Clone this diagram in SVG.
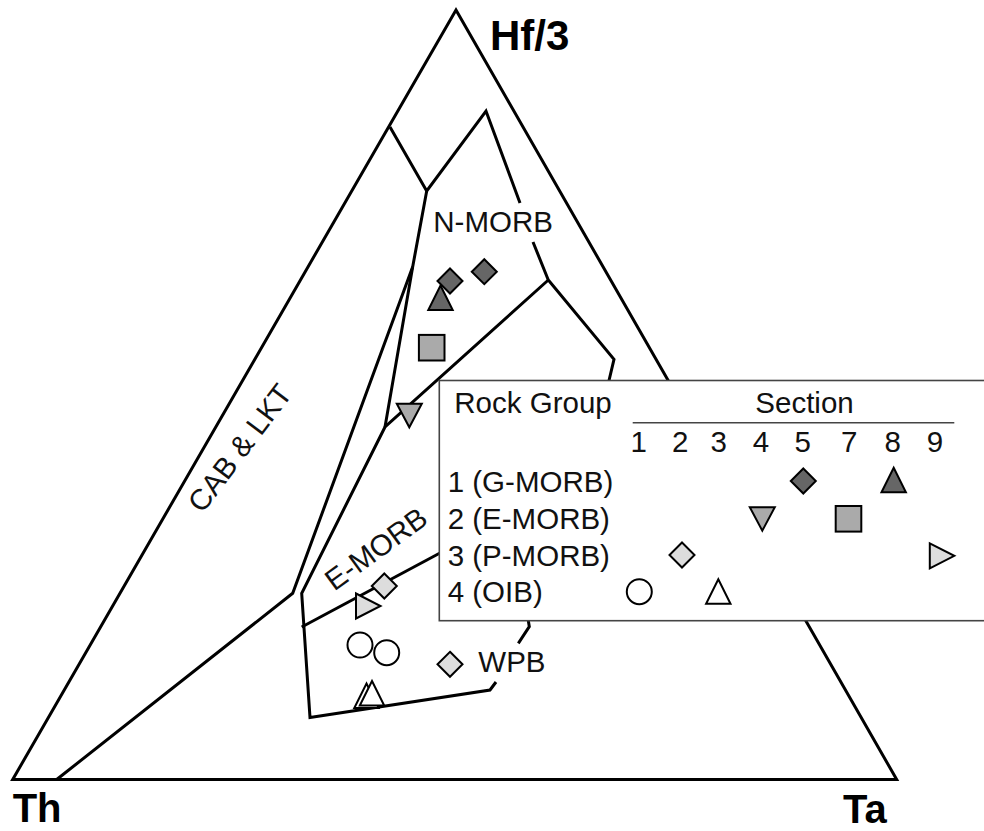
<svg xmlns="http://www.w3.org/2000/svg" xmlns:xlink="http://www.w3.org/1999/xlink" width="984" height="831" viewBox="0 0 984 831">
<style>
.ln{fill:none;stroke:#000;stroke-width:3;stroke-linejoin:miter;stroke-linecap:butt}
.lg{fill:#fff;stroke:#444;stroke-width:1.6}
.t{font-family:"Liberation Sans",Arial,sans-serif;font-size:29.5px;fill:#111}
.b{font-family:"Liberation Sans",Arial,sans-serif;font-weight:bold;fill:#000}
.m{stroke:#000;stroke-width:2;stroke-linejoin:miter}
.dk{fill:#666}
.md{fill:#aaa}
.lt{fill:#ddd}
.wh{fill:#fff}
</style>
<defs>
<polygon id="dia" points="0,-12.5 12.5,0 0,12.5 -12.5,0"/>
<polygon id="tup" points="0,-12.5 12.2,12 -12.2,12"/>
<polygon id="tdn" points="-12.5,-11.5 12.5,-11.5 0,12"/>
<polygon id="trt" points="-12,-12.5 12.5,0 -12,12.5"/>
<rect id="sq" x="-12.8" y="-12.8" width="25.6" height="25.6"/>
<circle id="cir" r="12.5"/>
</defs>
<rect width="984" height="831" fill="#fff"/>
<g id="connectors">
<polygon class="ln" points="456,10 896.7,779.5 12.7,779.5"/>
<polyline class="ln" points="390,127 426.7,191 486,111 520,203"/>
<polyline class="ln" points="533,242 548.3,280 614,359.3 609,380.5"/>
<polyline class="ln" points="426.7,191 412.7,266.7 385,427"/>
<polyline class="ln" points="412.7,266.7 292.7,593.3 56.7,779.5"/>
<polyline class="ln" points="548.3,280 385,427 301.7,593.3 310,717.5 490,690 496,682"/>
<polyline class="ln" points="518.3,643.3 529.3,626.7 528.3,620.5"/>
<line class="ln" x1="301.7" y1="627" x2="440" y2="553"/>
</g>
<g id="field-labels">
<text class="t" x="433.3" y="231.7" font-size="30">N-MORB</text>
<text class="t" x="478.3" y="671.7">WPB</text>
<text class="t" text-anchor="middle" transform="translate(382,557) rotate(-36)">E-MORB</text>
<text class="t" text-anchor="middle" font-size="30" transform="translate(248,454) rotate(-53)">CAB &amp; LKT</text>
</g>
<g id="axis-labels">
<text class="b" x="490" y="50" font-size="42">Hf/3</text>
<text class="b" x="12.7" y="822" font-size="40">Th</text>
<text class="b" x="843" y="823" font-size="40">Ta</text>
</g>
<g id="data-points">
<use href="#dia" xlink:href="#dia" class="m dk" x="450" y="281"/>
<use href="#dia" xlink:href="#dia" class="m dk" x="484.3" y="271.7"/>
<use href="#tup" xlink:href="#tup" class="m dk" x="440.5" y="298"/>
<use href="#sq" xlink:href="#sq" class="m md" x="431.7" y="347.7"/>
<use href="#tdn" xlink:href="#tdn" class="m md" x="409.3" y="415.3"/>
<use href="#trt" xlink:href="#trt" class="m lt" x="368" y="606"/>
<use href="#dia" xlink:href="#dia" class="m lt" x="384.3" y="586"/>
<use href="#cir" xlink:href="#cir" class="m wh" x="360" y="645"/>
<use href="#cir" xlink:href="#cir" class="m wh" x="386.7" y="652.7"/>
<use href="#dia" xlink:href="#dia" class="m lt" x="450" y="664.3"/>
<use href="#tup" xlink:href="#tup" class="m wh" x="366.5" y="696"/>
<use href="#tup" xlink:href="#tup" class="m wh" x="372" y="693.5"/>
</g>
<g id="legend">
<rect class="lg" x="439.3" y="380.5" width="560" height="240.2"/>
<text class="t" x="454.3" y="413.3">Rock Group</text>
<text class="t" x="755.3" y="413.3">Section</text>
<line x1="632.7" y1="422.7" x2="954.3" y2="422.7" stroke="#444" stroke-width="1.6"/>
<g class="t" text-anchor="middle">
<text x="638.7" y="452.3">1</text>
<text x="680.3" y="452.3">2</text>
<text x="718.7" y="452.3">3</text>
<text x="761" y="452.3">4</text>
<text x="802.7" y="452.3">5</text>
<text x="849.3" y="452.3">7</text>
<text x="892.7" y="452.3">8</text>
<text x="935" y="452.3">9</text>
</g>
<text class="t" x="447.7" y="492.3">1 (G-MORB)</text>
<text class="t" x="447.7" y="529.3">2 (E-MORB)</text>
<text class="t" x="447.7" y="566">3 (P-MORB)</text>
<text class="t" x="447.7" y="601.7">4 (OIB)</text>
<use href="#dia" xlink:href="#dia" class="m dk" x="803.3" y="481"/>
<use href="#tup" xlink:href="#tup" class="m dk" x="893.7" y="480.3"/>
<use href="#tdn" xlink:href="#tdn" class="m md" x="762.3" y="518.7"/>
<use href="#sq" xlink:href="#sq" class="m md" x="848.5" y="518.8"/>
<use href="#dia" xlink:href="#dia" class="m lt" x="682" y="555"/>
<use href="#trt" xlink:href="#trt" class="m lt" x="941.8" y="555.8"/>
<use href="#cir" xlink:href="#cir" class="m wh" x="639.3" y="591.7"/>
<use href="#tup" xlink:href="#tup" class="m wh" x="718.3" y="591.8"/>
</g>
</svg>
